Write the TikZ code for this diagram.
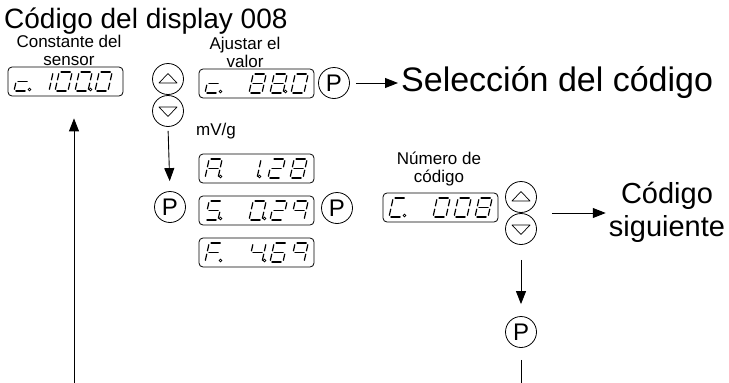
\documentclass[tikz,border=0pt]{standalone}
\usepackage{fontspec}
\setmainfont{Liberation Sans}
\usetikzlibrary{arrows.meta,calc}

\tikzset{
 dispbox/.style={draw, rounded corners=4pt, line width=0.8pt, minimum width=115pt, minimum height=29pt, inner sep=0pt},
 btn/.style={draw, circle, minimum size=31pt, inner sep=0pt, line width=0.8pt},
 pbtn/.style={draw, circle, minimum size=31pt, inner sep=0pt, line width=0.8pt, font=\fontsize{24}{24}\selectfont},
 segline/.style={line width=1.2pt, line cap=round},
 tri/.style={line width=0.7pt, line join=round},
 arr/.style={line width=0.9pt, -{Triangle[length=13pt,width=10pt]}},
 lbl/.style={font=\fontsize{17}{18}\selectfont, align=center, inner sep=0pt},
 big/.style={font=\fontsize{34}{36}\selectfont, align=center, inner sep=0pt},
}

% seven-segment helpers
\newcommand\SP[2]{({\dX+(#1)+0.22*(#2)},{\by-(#2)})}
\newcommand\segXa{\draw[segline] \SP{1.9}{19} -- \SP{11.1}{19};}
\newcommand\segXb{\draw[segline] \SP{13}{17.3} -- \SP{13}{11.1};}
\newcommand\segXc{\draw[segline] \SP{13}{7.9} -- \SP{13}{1.7};}
\newcommand\segXd{\draw[segline] \SP{1.9}{0} -- \SP{11.1}{0};}
\newcommand\segXe{\draw[segline] \SP{0}{7.9} -- \SP{0}{1.7};}
\newcommand\segXf{\draw[segline] \SP{0}{17.3} -- \SP{0}{11.1};}
\newcommand\segXg{\draw[segline] \SP{1.9}{9.5} -- \SP{11.1}{9.5};}
\newcommand\dg[2]{\pgfmathsetmacro\dX{\bx+#1}\foreach \s in {#2}{\csname segX\s\endcsname}}
\newcommand\dt[1]{\draw[line width=0.6pt] ({\bx+#1+15.5},{\by-1.5}) circle (1.4pt);}

\begin{document}
\begin{tikzpicture}[x=1pt,y=-1pt]
\useasboundingbox (0,0) rectangle (729,383);

% title
\node[anchor=base west, inner sep=0pt, font=\fontsize{28}{30}\selectfont] (title) at (4,28) {Código del display 008};

% sensor constant
\node[lbl] (lconst) at (69,50) {Constante del\\sensor};
\node[dispbox] (d1) at (65.5,81.5) {};
\def\bx{8}\def\by{91}
\dg{6}{g,e,d}\dt{6}
\dg{28}{b,c}
\dg{47}{a,b,c,d,e,f}
\dg{67}{a,b,c,d,e,f}\dt{67}
\dg{87}{a,b,c,d,e,f}

% up/down 1
\node[btn] (up1) at (168,79) {};
\node[btn] (dn1) at (168,111) {};
\draw[tri] ([shift={(-9,4)}]up1.center) -- ([shift={(9,4)}]up1.center) -- ([shift={(0,-5.5)}]up1.center) -- cycle;
\draw[tri] ([shift={(-9,-4)}]dn1.center) -- ([shift={(9,-4)}]dn1.center) -- ([shift={(0,5.5)}]dn1.center) -- cycle;

% adjust value
\node[lbl] (ladj) at (245,52) {Ajustar el\\valor};
\node[dispbox] (d2) at (256.5,83.5) {};
\def\bx{199}\def\by{93}
\dg{6}{g,e,d}\dt{6}
\dg{50}{a,b,c,d,e,f,g}
\dg{71}{a,b,c,d,e,f,g}\dt{71}
\dg{92}{a,b,c,d,e,f}
\node[lbl, anchor=base west] (mvg) at (196,135) {mV/g};

\node[pbtn] (p1) at (334,83) {P};
\node[big, anchor=west] (sel) at (401,83) {Selección del código};
\draw[arr, shorten <=6pt, shorten >=3pt] (p1.east) -- (sel.west);

% middle row
\node[pbtn] (pL) at (170,207) {P};
\draw[arr, shorten <=4pt, shorten >=10pt] (dn1.south) -- (pL.north);

\node[dispbox] (dA) at (256.5,168.5) {};
\def\bx{199}\def\by{178}
\dg{6}{a,b,c,e,f,g}\dt{6}
\dg{45}{b,c}\dt{45}
\dg{69}{a,b,g,e,d}
\dg{91}{a,b,c,d,e,f,g}

\node[dispbox] (dS) at (256.5,210.5) {};
\def\bx{199}\def\by{220}
\dg{6}{a,f,g,c,d}\dt{6}
\dg{50}{a,b,c,d,e,f}\dt{50}
\dg{71}{a,b,g,e,d}
\dg{92}{a,b,c,f,g}

\node[dispbox] (dF) at (256.5,252.5) {};
\def\bx{199}\def\by{262}
\dg{6}{a,f,g,e}\dt{6}
\dg{50}{f,g,b,c}\dt{50}
\dg{71}{a,f,g,e,c,d}
\dg{92}{a,b,c,f,g}

\node[pbtn] (pM) at (337,208) {P};

% code number
\node[lbl] (lnum) at (439,169) {Número de\\código};
\node[dispbox] (dC) at (440.5,207.5) {};
\def\bx{383}\def\by{217}
\dg{6}{a,f,e,d}\dt{6}
\dg{50}{a,b,c,d,e,f}
\dg{71}{a,b,c,d,e,f}
\dg{92}{a,b,c,d,e,f,g}

\node[btn] (up2) at (521,197) {};
\node[btn] (dn2) at (521,229) {};
\draw[tri] ([shift={(-9,4)}]up2.center) -- ([shift={(9,4)}]up2.center) -- ([shift={(0,-5.5)}]up2.center) -- cycle;
\draw[tri] ([shift={(-9,-4)}]dn2.center) -- ([shift={(9,-4)}]dn2.center) -- ([shift={(0,5.5)}]dn2.center) -- cycle;

\node[big, font=\fontsize{29}{33}\selectfont] (next) at (667,212) {Código\\siguiente};
\coordinate (mid2) at ($(up2.east)!0.5!(dn2.east)$);
\draw[arr, shorten <=15pt, shorten >=3pt] (mid2) -- (next.west |- mid2);

\node[pbtn] (pB) at (521,332) {P};
\draw[arr, shorten <=15pt, shorten >=12pt] (dn2.south) -- (pB.north);
\coordinate (br) at (521,383);
\draw[line width=0.9pt, shorten <=12pt] (pB.south) -- (br);

\coordinate (bl) at (74,383);
\draw[arr, shorten >=22pt] (bl) -- (bl |- d1.south);
\end{tikzpicture}
\end{document}
